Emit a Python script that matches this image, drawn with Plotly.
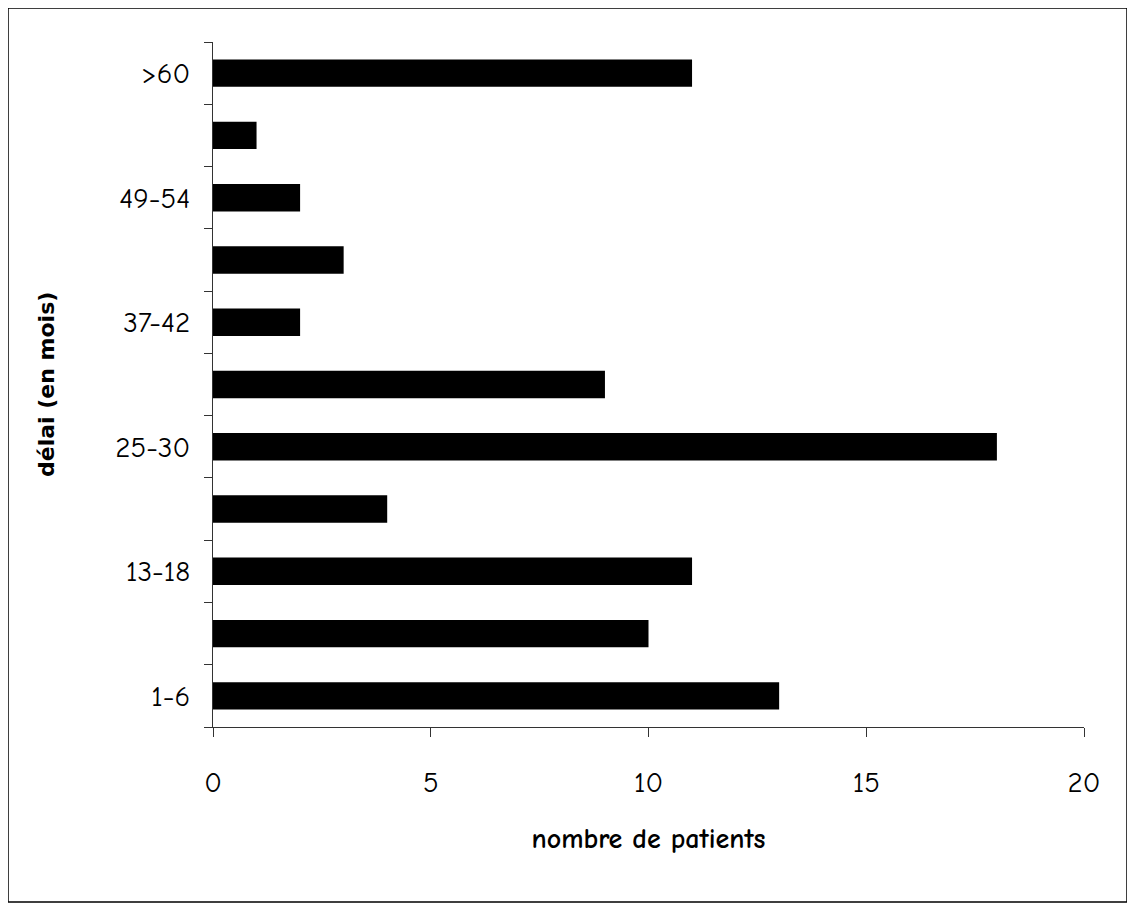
import plotly.graph_objects as go

categories = ["1-6", "7-12", "13-18", "19-24", "25-30", "31-36", "37-42", "43-48", "49-54", "55-60", ">60"]
patients = [13, 10, 11, 4, 18, 9, 2, 3, 2, 1, 11]
shown_labels = ["1-6", "", "13-18", "", "25-30", "", "37-42", "", "49-54", "", ">60"]
x_ticks = [0, 5, 10, 15, 20]

OFF = 8  # browser body margin
W, H = 1135 - OFF, 909 - OFF
L, T = 213 - OFF, 42 - OFF
R = W - (1084 - OFF)
B = H - (727 - OFF)
pw, ph = W - L - R, H - T - B

def px_x(sx):
    return (sx - OFF - L) / pw

def px_y(sy):
    return (H - B - (sy - OFF)) / ph

fig = go.Figure(go.Bar(
    x=patients, y=categories, orientation="h",
    marker=dict(color="black", line=dict(width=0)),
    width=0.44,
))

comic = "Comic Neue, Comic Sans MS, Noto Sans, sans-serif"

fig.update_layout(
    width=W, height=H,
    margin=dict(l=L, r=R, t=T, b=B),
    plot_bgcolor="white", paper_bgcolor="white",
    font=dict(family=comic, color="black"),
    showlegend=False,
    xaxis=dict(
        range=[0, 20], tickvals=x_ticks, ticks="outside", ticklen=9, tickwidth=1,
        tickcolor="#333", showline=True, linecolor="#333", linewidth=1,
        showgrid=False, zeroline=False, tickfont=dict(size=29),
        ticklabelstandoff=20,
        title=dict(text="<b>nombre de patients</b>", font=dict(size=28), standoff=30),
    ),
    yaxis=dict(
        categoryorder="array", categoryarray=categories,
        tickvals=categories, ticktext=shown_labels,
        tickson="boundaries", ticks="outside", ticklen=8, tickwidth=1,
        tickcolor="#333", showline=True, linecolor="#333", linewidth=1,
        showgrid=False, zeroline=False, tickfont=dict(size=29),
        ticklabelstandoff=16,
        range=[-0.5, len(categories) - 0.5],
    ),
    annotations=[dict(
        text="<b>délai (en mois)</b>", xref="paper", yref="paper",
        x=px_x(46), y=px_y(385), textangle=-90, showarrow=False,
        font=dict(family="DejaVu Sans, Verdana, sans-serif", size=22),
        xanchor="center", yanchor="middle",
    )],
    shapes=[dict(
        type="rect", xref="paper", yref="paper",
        x0=px_x(8), x1=px_x(1127),
        y0=px_y(902), y1=px_y(8),
        line=dict(color="black", width=1.5), fillcolor="rgba(0,0,0,0)",
    )],
)

fig.write_html("out.html")
